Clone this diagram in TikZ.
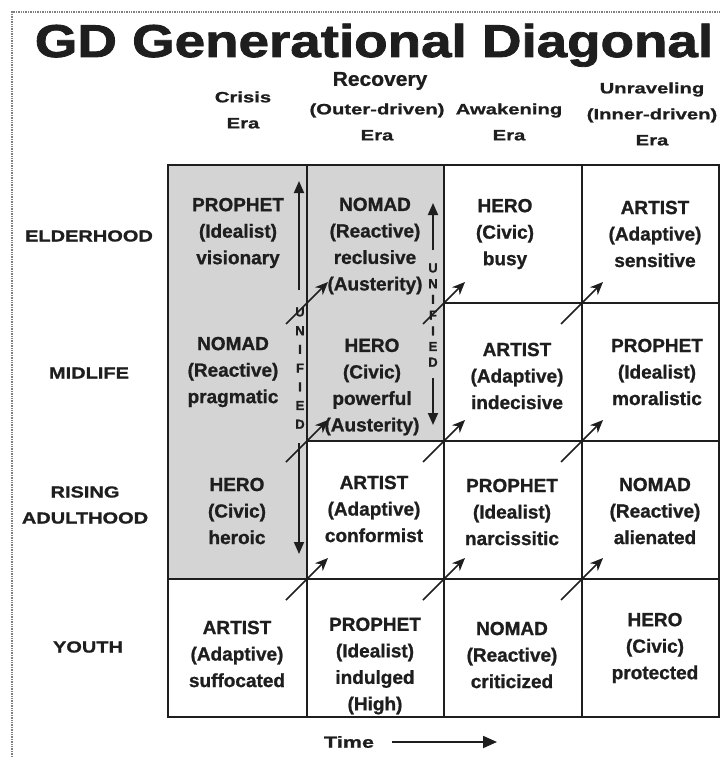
\documentclass[tikz,border=0pt]{standalone}
\usepackage{fontspec}
\setmainfont{Liberation Sans}
\newfontfamily\titlefont[FakeStretch=1.19,FakeBold=1.8]{Liberation Sans Bold}
\newfontfamily\hdrfont[FakeStretch=1.35,FakeBold=1.0]{Liberation Sans Bold}
\newfontfamily\recfont[FakeStretch=1.05,FakeBold=0.8]{Liberation Sans Bold}
\newfontfamily\lblfont[FakeStretch=1.25,FakeBold=1.0]{Liberation Sans Bold}
\newfontfamily\cellfont[FakeBold=1.0]{Liberation Sans Bold}
\newfontfamily\unifont[FakeBold=1.2]{Liberation Sans Bold}
\usetikzlibrary{arrows.meta}
\definecolor{shadegray}{HTML}{D4D4D4}
\definecolor{ink}{HTML}{1E1E1E}
\begin{document}
\begin{tikzpicture}[x=1pt,y=-1pt,
  cell/.style={font=\cellfont\fontsize{19}{26.5}\selectfont, align=center, inner sep=0pt, text=ink},
  hdr/.style={font=\hdrfont\fontsize{15}{26}\selectfont, align=center, inner sep=0pt, text=ink},
  lbl/.style={font=\lblfont\fontsize{16}{26}\selectfont, align=center, inner sep=0pt, text=ink},
  uni/.style={font=\unifont\fontsize{13}{13}\selectfont, inner sep=0pt, text=ink},
  gridline/.style={draw=ink, line width=2.4pt},
  frame/.style={draw=black!50, line width=1.4pt, densely dotted},
  diag/.style={draw=ink, line width=1.5pt, -{Stealth[length=13pt,width=11pt]}},
  vert/.style={draw=ink, line width=1.8pt, -{Triangle[length=12pt,width=10pt]}},
  timearrow/.style={draw=ink, line width=1.8pt, -{Triangle[length=14pt,width=12pt]}}
]
\useasboundingbox (0,0) rectangle (721,757);
\fill[white] (0,0) rectangle (721,757);
% frame
\draw[frame] (12,757) -- (12,12) -- (721,12);
% title
\node[inner sep=0pt, text=ink, font=\titlefont\fontsize{46}{46}\selectfont, anchor=base] (title) at (374,57) {GD Generational Diagonal};
% column headers
\node[hdr] (h1) at (243,110) {Crisis\\Era};
\node[inner sep=0pt, text=ink, font=\recfont\fontsize{20}{20}\selectfont] (h2a) at (380,81) {Recovery};
\node[hdr] (h2) at (377,122) {(Outer-driven)\\Era};
\node[hdr] (h3) at (509,122) {Awakening\\Era};
\node[hdr] (h4) at (652,114) {Unraveling\\(Inner-driven)\\Era};
% shaded area
\fill[shadegray] (168,165) -- (444,165) -- (444,441) -- (307,441) -- (307,579) -- (168,579) -- cycle;
% grid
\draw[gridline] (168,165) rectangle (719,717);
\draw[gridline] (307,165) -- (307,717);
\draw[gridline] (444,165) -- (444,717);
\draw[gridline] (582,165) -- (582,717);
\draw[gridline] (444,303) -- (719,303);
\draw[gridline] (307,441) -- (719,441);
\draw[gridline] (168,579) -- (719,579);
% row labels
\node[lbl] (l1) at (89,236) {ELDERHOOD};
\node[lbl] (l2) at (89,373) {MIDLIFE};
\node[lbl] (l3) at (85,505) {RISING\\ADULTHOOD};
\node[lbl] (l4) at (88,647) {YOUTH};
% cells
\node[cell] (c11) at (238,233) {PROPHET\\(Idealist)\\visionary};
\node[cell] (c12) at (375,246) {NOMAD\\(Reactive)\\reclusive\\(Austerity)};
\node[cell] (c13) at (505,234) {HERO\\(Civic)\\busy};
\node[cell] (c14) at (655,234) {ARTIST\\(Adaptive)\\sensitive};
\node[cell] (c21) at (233,372) {NOMAD\\(Reactive)\\pragmatic};
\node[cell] (c22) at (372,387) {HERO\\(Civic)\\powerful\\(Austerity)};
\node[cell] (c23) at (517,376) {ARTIST\\(Adaptive)\\indecisive};
\node[cell] (c24) at (657,372) {PROPHET\\(Idealist)\\moralistic};
\node[cell] (c31) at (237,511) {HERO\\(Civic)\\heroic};
\node[cell] (c32) at (374,509) {ARTIST\\(Adaptive)\\conformist};
\node[cell] (c33) at (512,512) {PROPHET\\(Idealist)\\narcissitic};
\node[cell] (c34) at (655,511) {NOMAD\\(Reactive)\\alienated};
\node[cell] (c41) at (237,654) {ARTIST\\(Adaptive)\\suffocated};
\node[cell] (c42) at (375,666) {PROPHET\\(Idealist)\\indulged\\(High)};
\node[cell] (c43) at (512,655) {NOMAD\\(Reactive)\\criticized};
\node[cell] (c44) at (655,648) {HERO\\(Civic)\\protected};
% diagonal arrows
\foreach \x/\y [count=\k] in {307/303,444/303,582/303,307/441,444/441,582/441,307/579,444/579,582/579} {
  \coordinate (ds\k) at (\x-21,\y+21);
  \coordinate (de\k) at (\x+21,\y-21);
  \draw[diag] (ds\k) -- (de\k);
}
% vertical arrows
\coordinate (ua1) at (299,290); \coordinate (ub1) at (299,181);
\coordinate (da1) at (299,443); \coordinate (db1) at (299,554);
\coordinate (ua2) at (433,250); \coordinate (ub2) at (433,203);
\coordinate (da2) at (433,378); \coordinate (db2) at (433,425);
\draw[vert] (ua1) -- (ub1);
\draw[vert] (da1) -- (db1);
\draw[vert] (ua2) -- (ub2);
\draw[vert] (da2) -- (db2);
% UNIFIED letters
\foreach \ch [count=\k] in {U,N,I,F,I,E,D} {
  \node[uni] (ula\k) at (300,{312+(\k-1)*18.7}) {\ch};
  \node[uni] (ulb\k) at (433,{268+(\k-1)*15.7}) {\ch};
}
% time
\node[font=\hdrfont\fontsize{16}{16}\selectfont, inner sep=0pt, text=ink] (time) at (349,742) {Time};
\coordinate (tstart) at (392,742);
\coordinate (tend) at (497,742);
\draw[timearrow] (tstart) -- (tend);
\end{tikzpicture}
\end{document}
